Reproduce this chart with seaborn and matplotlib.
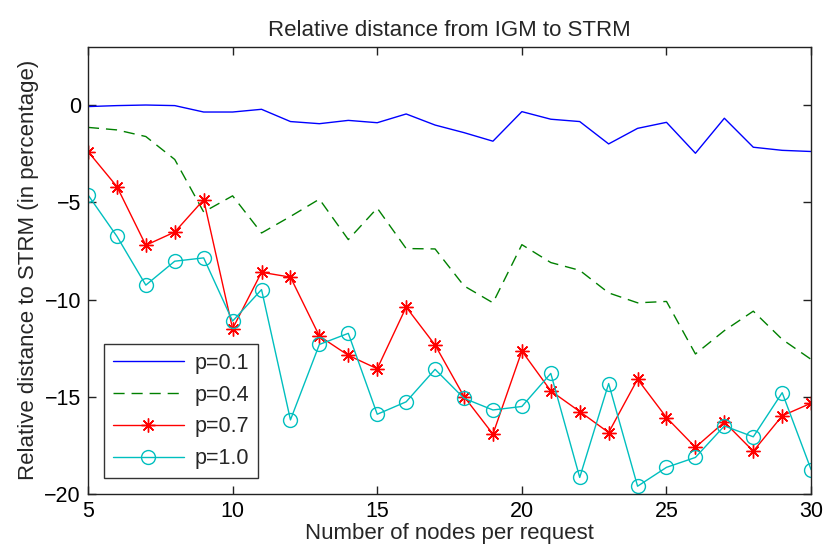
import matplotlib
matplotlib.use("Agg")
import matplotlib.pyplot as plt
import seaborn as sns
import pandas as pd

nodes = list(range(5, 31))
p01 = [-0.08, -0.03, 0.0, -0.03, -0.36, -0.36, -0.22, -0.85, -0.96, -0.79, -0.91, -0.46, -1.03,
       -1.42, -1.86, -0.34, -0.73, -0.85, -2.0, -1.2, -0.89, -2.48, -0.68, -2.17, -2.33, -2.39]
p04 = [-1.15, -1.28, -1.62, -2.8, -5.5, -4.67, -6.58, -5.73, -4.84, -6.92, -5.3, -7.38, -7.4,
       -9.3, -10.17, -7.18, -8.1, -8.5, -9.66, -10.17, -10.1, -12.8, -11.6, -10.6, -12.05, -13.08]
p07 = [-2.39, -4.19, -7.21, -6.53, -4.87, -11.5, -8.6, -8.85, -11.88, -12.87, -13.56, -10.39, -12.34,
       -14.99, -16.92, -12.65, -14.7, -15.76, -16.84, -14.1, -16.07, -17.6, -16.3, -17.8, -15.98, -15.33]
p10 = [-4.62, -6.75, -9.26, -8.03, -7.86, -11.11, -9.49, -16.19, -12.31, -11.74, -15.9, -15.26, -13.59,
       -15.08, -15.68, -15.5, -13.8, -19.15, -14.32, -19.6, -18.63, -18.12, -16.5, -17.06, -14.79, -18.75]
labels = ["p=0.1", "p=0.4", "p=0.7", "p=1.0"]
series = [p01, p04, p07, p10]

xticks = [5, 10, 15, 20, 25, 30]
yticks = [0, -5, -10, -15, -20]

sns.set_style("white")
plt.rcParams['font.family'] = ['Liberation Sans', 'DejaVu Sans']

fig = plt.figure(figsize=(8.26, 5.53), dpi=100)
ax = fig.add_axes([0.1065, 0.1067, 0.8755, 0.8089])

styles = [
    dict(color="#0000ff", linestyle="-"),
    dict(color="#008000", linestyle=(0, (8, 5))),
    dict(color="#ff0000", linestyle="-", marker=(8, 2, 0), markersize=10, markeredgewidth=1,
         markeredgecolor="#ff0000"),
    dict(color="#00bfbf", linestyle="-", marker="o", markersize=10, markerfacecolor="none",
         markeredgewidth=1, markeredgecolor="#00bfbf"),
]
for lab, vals, st in zip(labels, series, styles):
    df = pd.DataFrame({"x": nodes, "y": vals})
    sns.lineplot(data=df, x="x", y="y", ax=ax, label=lab, linewidth=1, **st)

ax.set_xlim(5, 30)
ax.set_ylim(-20, 3)
ax.set_xticks(xticks)
ax.set_yticks(yticks)
ax.set_yticklabels([str(t).replace("-", "\u2212") for t in yticks])
ax.tick_params(direction="in", length=6, width=1, labelsize=15.5, top=True, right=True,
               bottom=True, left=True, colors="#222222", labelcolor="black", pad=5)
for s in ax.spines.values():
    s.set_visible(True)
    s.set_color("#222222")
    s.set_linewidth(1)

ax.set_xlabel("Number of nodes per request", fontsize=16, labelpad=1)
ax.set_ylabel("Relative distance to STRM (in percentage)", fontsize=16, labelpad=4)
ax.set_title("Relative distance from IGM to STRM", fontsize=16, pad=8)

leg = ax.legend(loc="lower left", fontsize=15.5, handlelength=3.3, frameon=True, fancybox=False,
                edgecolor="black", borderaxespad=0.75, labelspacing=0.5, borderpad=0.4,
                handletextpad=0.5)
leg.get_frame().set_linewidth(1)

fig.savefig("out.png", dpi=100)
